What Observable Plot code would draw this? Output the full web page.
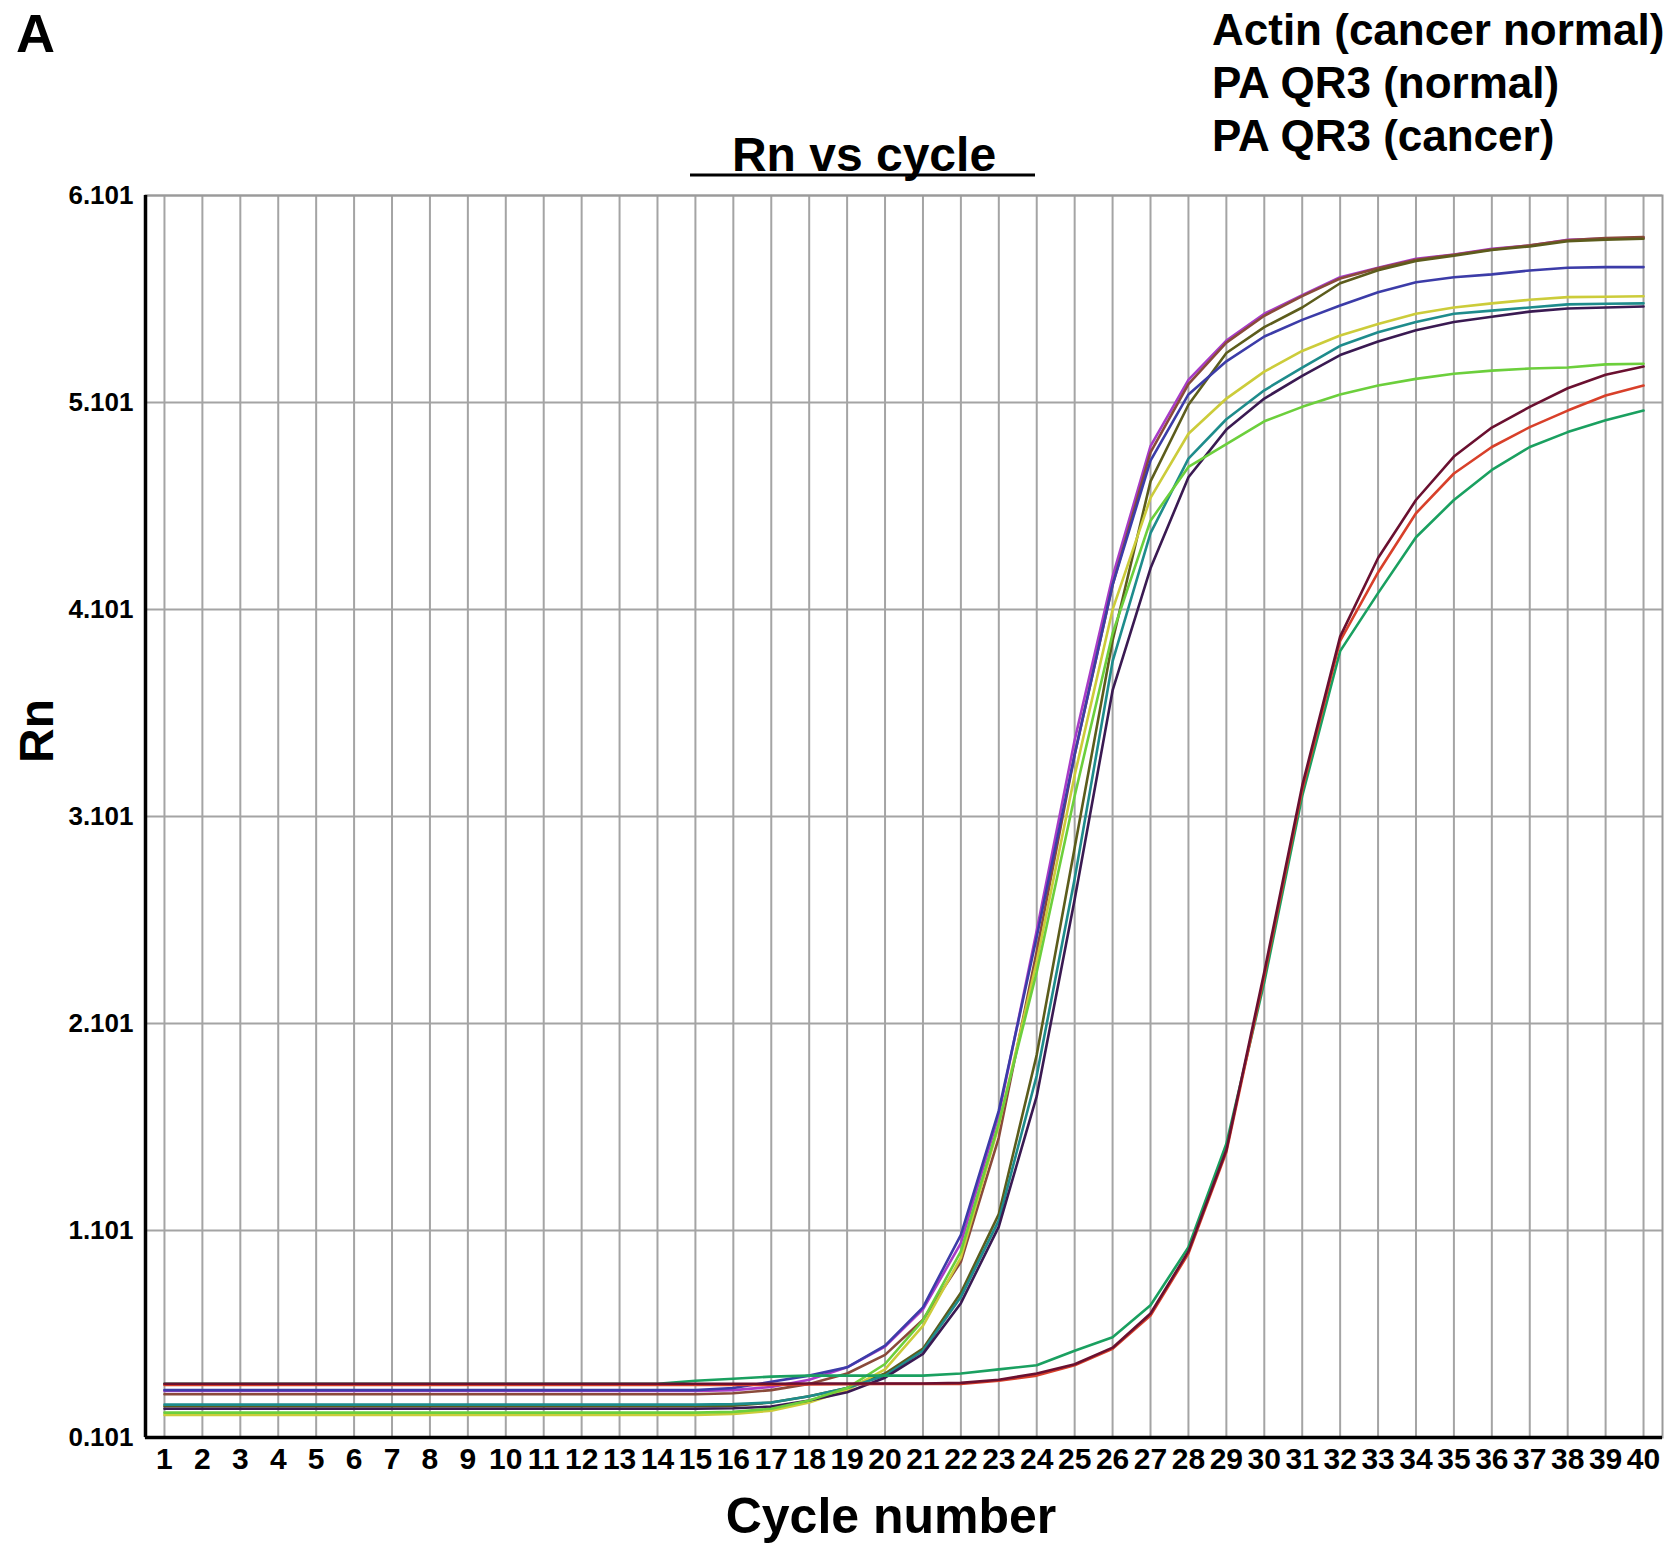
<!DOCTYPE html>
<html><head><meta charset="utf-8">
<script src="https://cdn.jsdelivr.net/npm/d3@7"></script>
<script src="https://cdn.jsdelivr.net/npm/@observablehq/plot@0.6"></script>
<style>body{margin:0;background:#fff;} svg{display:block}</style>
</head><body><div id="chart"></div>
<script>
const cycles = d3.range(1, 41);
const xTicks = d3.range(1, 41);
const yTicks = [0.101, 1.101, 2.101, 3.101, 4.101, 5.101, 6.101];
const legendLines = ["Actin (cancer normal)", "PA QR3 (normal)", "PA QR3 (cancer)"];

const seriesNames = ["magenta", "brown", "olive", "blue", "yellow", "teal", "darkpurple", "lightgreen", "green", "red", "maroon"];
const seriesColors = ["#a83cc8", "#8a4a3a", "#5c5c1c", "#3c3ca8", "#cccc3a", "#1e8c8c", "#3a1a52", "#6ccf3c", "#1aa060", "#d8402a", "#6a1030"];

const magenta = [0.326,0.326,0.326,0.326,0.326,0.326,0.326,0.326,0.326,0.326,0.326,0.326,0.326,0.326,0.326,0.33,0.345,0.38,0.44,0.54,0.72,1.04,1.66,2.55,3.47,4.26,4.89,5.21,5.40,5.53,5.62,5.706,5.752,5.795,5.816,5.843,5.859,5.887,5.893,5.897];
const brown = [0.31,0.31,0.31,0.31,0.31,0.31,0.31,0.31,0.31,0.31,0.31,0.31,0.31,0.31,0.31,0.315,0.33,0.36,0.41,0.50,0.67,0.95,1.55,2.45,3.40,4.22,4.86,5.19,5.39,5.52,5.615,5.70,5.75,5.79,5.815,5.84,5.86,5.885,5.895,5.90];
const olive = [0.252,0.252,0.252,0.252,0.252,0.252,0.252,0.252,0.252,0.252,0.252,0.252,0.252,0.252,0.252,0.255,0.27,0.30,0.34,0.41,0.53,0.80,1.18,1.95,2.95,3.95,4.72,5.09,5.34,5.465,5.56,5.677,5.74,5.785,5.81,5.838,5.855,5.88,5.888,5.892];
const blue = [0.33,0.33,0.33,0.33,0.33,0.33,0.33,0.33,0.33,0.33,0.33,0.33,0.33,0.33,0.33,0.34,0.37,0.40,0.44,0.545,0.73,1.08,1.68,2.52,3.40,4.22,4.82,5.14,5.30,5.42,5.50,5.57,5.634,5.682,5.706,5.72,5.739,5.752,5.755,5.755];
const yellow = [0.21,0.21,0.21,0.21,0.21,0.21,0.21,0.21,0.21,0.21,0.21,0.21,0.21,0.21,0.21,0.215,0.23,0.27,0.33,0.43,0.64,0.97,1.61,2.40,3.30,4.10,4.64,4.95,5.12,5.25,5.35,5.425,5.48,5.53,5.56,5.58,5.597,5.61,5.612,5.614];
const teal = [0.26,0.26,0.26,0.26,0.26,0.26,0.26,0.26,0.26,0.26,0.26,0.26,0.26,0.26,0.26,0.262,0.27,0.30,0.34,0.40,0.52,0.78,1.15,1.85,2.80,3.85,4.47,4.83,5.02,5.16,5.27,5.375,5.44,5.49,5.53,5.545,5.56,5.575,5.578,5.58];
const darkpurple = [0.24,0.24,0.24,0.24,0.24,0.24,0.24,0.24,0.24,0.24,0.24,0.24,0.24,0.24,0.24,0.242,0.25,0.28,0.32,0.39,0.505,0.75,1.12,1.75,2.70,3.71,4.30,4.74,4.97,5.12,5.23,5.33,5.396,5.45,5.49,5.515,5.54,5.555,5.56,5.565];
const lightgreen = [0.221,0.221,0.221,0.221,0.221,0.221,0.221,0.221,0.221,0.221,0.221,0.221,0.221,0.221,0.221,0.225,0.24,0.28,0.34,0.456,0.667,1.0,1.62,2.35,3.20,3.985,4.53,4.79,4.90,5.01,5.08,5.14,5.183,5.215,5.24,5.255,5.265,5.27,5.285,5.288];
const green = [0.36,0.36,0.36,0.36,0.36,0.36,0.36,0.36,0.36,0.36,0.36,0.36,0.36,0.36,0.375,0.385,0.395,0.40,0.40,0.40,0.40,0.41,0.43,0.45,0.52,0.585,0.74,1.02,1.52,2.30,3.20,3.90,4.18,4.45,4.63,4.775,4.886,4.958,5.015,5.062];
const red = [0.355,0.355,0.355,0.355,0.355,0.355,0.355,0.355,0.355,0.355,0.355,0.355,0.355,0.355,0.355,0.355,0.355,0.357,0.358,0.36,0.36,0.36,0.375,0.40,0.45,0.53,0.69,0.99,1.48,2.33,3.23,3.95,4.28,4.566,4.758,4.886,4.982,5.062,5.135,5.183];
const maroon = [0.361,0.361,0.361,0.361,0.361,0.361,0.361,0.361,0.361,0.361,0.361,0.361,0.361,0.361,0.361,0.361,0.361,0.362,0.362,0.362,0.362,0.365,0.38,0.41,0.455,0.535,0.70,1.00,1.49,2.35,3.25,3.97,4.35,4.63,4.84,4.98,5.08,5.17,5.235,5.275];

const seriesValues = {magenta, brown, olive, blue, yellow, teal, darkpurple, lightgreen, green, red, maroon};
const data = [];
for (const name of seriesNames) {
  seriesValues[name].forEach((v, i) => data.push({cycle: cycles[i], rn: v, name}));
}

const font = "'Liberation Sans', Arial, Helvetica, sans-serif";
const chart = Plot.plot({
  width: 1677, height: 1564,
  marginLeft: 145, marginRight: 15, marginTop: 195, marginBottom: 127,
  x: {domain: [0.5, 40.5]},
  y: {domain: [0.101, 6.101]},
  color: {domain: seriesNames, range: seriesColors},
  style: {fontFamily: font, background: "white", color: "#000"},
  marks: [
    Plot.gridX(xTicks, {stroke: "#a4a4a4", strokeOpacity: 1, strokeWidth: 2}),
    Plot.gridY(yTicks, {stroke: "#a4a4a4", strokeOpacity: 1, strokeWidth: 2}),
    Plot.frame({stroke: "#9a9a9a", strokeWidth: 2}),
    Plot.lineY(data, {x: "cycle", y: "rn", z: "name", stroke: "name", strokeWidth: 2.6}),
    Plot.ruleX([0.5], {stroke: "#000", strokeWidth: 3.5}),
    Plot.ruleY([0.101], {stroke: "#000", strokeWidth: 3.5}),
    Plot.axisX(xTicks, {tickSize: 0, tickPadding: 10, fontSize: 30, fontWeight: "bold", label: null, tickFormat: d => String(d), style: {letterSpacing: "-1px"}}),
    Plot.axisY(yTicks, {tickSize: 0, tickPadding: 12, fontSize: 26, fontWeight: "bold", label: null, tickFormat: d => d.toFixed(3)})
  ]
});
document.getElementById("chart").appendChild(chart);

const svg = d3.select(chart);
const g = svg.append("g").attr("font-family", font).attr("font-weight", "bold").attr("fill", "#000");
g.append("text").attr("x", 16).attr("y", 52).attr("font-size", 54).attr("text-anchor", "start").text("A");
g.append("text").attr("x", 864).attr("y", 171).attr("font-size", 48).attr("text-anchor", "middle").text("Rn vs cycle");
g.append("line").attr("x1", 690).attr("x2", 1035).attr("y1", 175).attr("y2", 175).attr("stroke", "#000").attr("stroke-width", 3);
legendLines.forEach((t, i) => {
  g.append("text").attr("x", 1212).attr("y", 45 + i * 53).attr("font-size", 44).attr("text-anchor", "start").text(t);
});
g.append("text").attr("x", 891).attr("y", 1533).attr("font-size", 50).attr("text-anchor", "middle").text("Cycle number");
g.append("text").attr("transform", "translate(53,731) rotate(-90)").attr("font-size", 48).attr("text-anchor", "middle").text("Rn");
</script>
</body></html>
